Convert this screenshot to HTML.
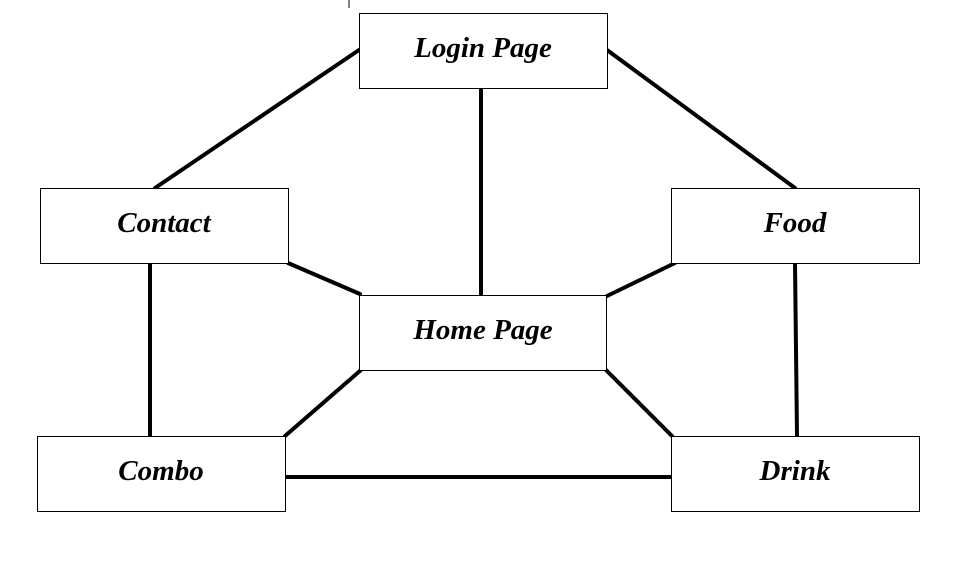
<!DOCTYPE html>
<html><head><meta charset="utf-8"><style>
html,body{margin:0;padding:0;background:#fff;width:980px;height:578px;overflow:hidden}
svg{display:block}
text{font-family:"Liberation Serif",serif;font-weight:bold;font-style:italic;font-size:29px;fill:#000}
</style></head><body>
<svg width="980" height="578" viewBox="0 0 980 578">
<g stroke="#000" stroke-width="4" stroke-linecap="round">
<line x1="359" y1="50" x2="155" y2="188"/>
<line x1="481" y1="88" x2="481" y2="297"/>
<line x1="607" y1="50" x2="795" y2="188"/>
<line x1="288" y1="263" x2="360" y2="294"/>
<line x1="675" y1="263" x2="607" y2="296"/>
<line x1="150" y1="263" x2="150" y2="436"/>
<line x1="795" y1="263" x2="797" y2="436"/>
<line x1="361" y1="370" x2="285" y2="436"/>
<line x1="606" y1="370" x2="672" y2="436"/>
<line x1="285" y1="477" x2="671" y2="477"/>
</g>
<line x1="349" y1="0" x2="349" y2="8" stroke="#000" stroke-width="1"/>
<g fill="#fff" stroke="#000" stroke-width="1">
<rect x="359.5" y="13.5" width="248" height="75"/>
<rect x="40.5" y="188.5" width="248" height="75"/>
<rect x="671.5" y="188.5" width="248" height="75"/>
<rect x="359.5" y="295.5" width="247" height="75"/>
<rect x="37.5" y="436.5" width="248" height="75"/>
<rect x="671.5" y="436.5" width="248" height="75"/>
</g>
<g text-anchor="middle">
<text x="483" y="57">Login Page</text>
<text x="164" y="232">Contact</text>
<text x="795" y="232">Food</text>
<text x="483" y="339">Home Page</text>
<text x="161" y="480">Combo</text>
<text x="795" y="480">Drink</text>
</g>
</svg>
</body></html>
